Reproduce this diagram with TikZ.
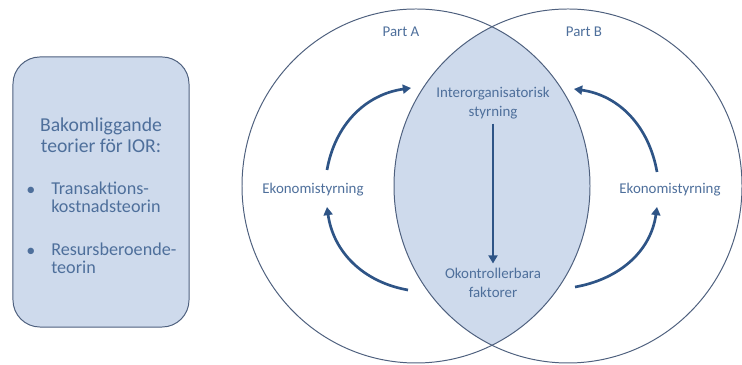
\documentclass[tikz,border=0pt]{standalone}
\usepackage{fontspec}
\setmainfont{Carlito}
\usetikzlibrary{positioning, arrows.meta}
\definecolor{lensblue}{RGB}{206,218,236}
\definecolor{rimgray}{RGB}{78,96,126}
\definecolor{txtblue}{RGB}{78,111,155}
\definecolor{arrowblue}{RGB}{46,84,134}

\begin{document}
\begin{tikzpicture}[x=0.025cm, y=0.025cm]
    \tikzset{lbl/.style = {text=txtblue, font=\fontsize{10.6}{13.2}\selectfont, align=center}}
    \tikzset{loop/.style = {draw=arrowblue, line width=1.9pt, -{Triangle[length=5.8pt,width=6.4pt]}}}
    \tikzset{rim/.style = {draw=rimgray, line width=0.7pt}}
    \tikzset{item/.style = {text=txtblue, font=\fontsize{12.9}{12.5}\selectfont, align=left, inner sep=0pt}}

    \useasboundingbox (0,0) rectangle (742,365);

    % the two parts and their overlap
    \begin{scope}
        \clip (416,179) ellipse [x radius=174, y radius=177];
        \fill[lensblue] (568,179) ellipse [x radius=174, y radius=177];
    \end{scope}
    \draw[rim] (416,179) ellipse [x radius=174, y radius=177];
    \draw[rim] (568,179) ellipse [x radius=174, y radius=177];

    % theory box
    \node[rim, fill=lensblue, rounded corners=0.675cm, minimum width=4.4cm, minimum height=6.75cm, inner sep=0pt] (ior) at (101,173) {};
    \node[text=txtblue, font=\fontsize{14}{14.7}\selectfont, align=center] (iorhead) at (101,230) {Bakomliggande\\teorier för IOR:};
    \node[item] (dot1) at (31,174) {\textbullet};
    \node[item] (dot2) at (31,113) {\textbullet};
    \node[item, anchor=west] (item1) at (51,167.7) {Transaktions-\\kostnadsteorin};
    \node[item, anchor=west] (item2) at (51,106.7) {Resursberoende-\\teorin};

    \node[lbl] (partA) at (401,333) {Part A};
    \node[lbl] (partB) at (584,333) {Part B};
    \node[lbl] (inter) at (493,262) {Interorganisatorisk\\styrning};
    \node[lbl] (okon) at (493,82) {Okontrollerbara\\faktorer};
    \node[lbl] (ekoA) at (313,175) {Ekonomistyrning};
    \node[lbl] (ekoB) at (670,175) {Ekonomistyrning};

    \draw[loop] (inter) -- (okon);

    % feedback loops
    \coordinate (aUpS) at (327,195);
    \coordinate (aUpE) at (411,277);
    \coordinate (aLoS) at (408,75);
    \coordinate (aLoE) at (327,158);
    \coordinate (bUpS) at (657,193);
    \coordinate (bUpE) at (574,276);
    \coordinate (bLoS) at (575,78);
    \coordinate (bLoE) at (657,158);

    \draw[loop] (aUpS) to[out=80, in=188] (aUpE);
    \draw[loop] (aLoS) to[out=170, in=-82] (aLoE);
    \draw[loop] (bUpS) to[out=100, in=-8] (bUpE);
    \draw[loop] (bLoS) to[out=10, in=-98] (bLoE);

\end{tikzpicture}
\end{document}
